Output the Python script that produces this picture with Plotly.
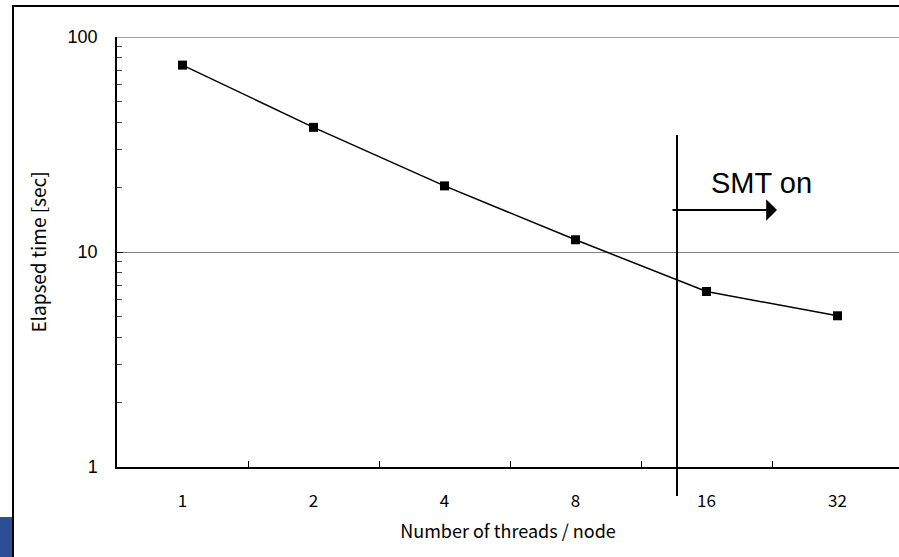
import plotly.graph_objects as go

threads = ["1", "2", "4", "8", "16", "32"]
elapsed = [74.0, 38.0, 20.3, 11.4, 6.55, 5.05]
y_tickvals = [1, 10, 100]
y_ticktext = ["1", "10", "100"]

W, H = 899, 557
L, T, B, R = 117, 37, 90, 0
pw = W - L - R
ph = H - T - B

def px_to_paper_x(px):
    return (px - L) / pw

def px_to_paper_y(py):
    return (H - B - py) / ph

def px_to_cat(px):
    return (px - L) / 131.0 - 0.5

fig = go.Figure()
fig.add_trace(go.Scatter(
    x=threads, y=elapsed, mode="lines+markers",
    line=dict(color="black", width=1.5),
    marker=dict(symbol="square", size=9, color="black"),
    showlegend=False, cliponaxis=False,
))

shapes = [
    # top gridline at 100
    dict(type="line", xref="paper", yref="y", x0=0, x1=1, y0=100, y1=100,
         line=dict(color="#808080", width=1.5), layer="below"),
    # vertical SMT divider
    dict(type="line", xref="x", yref="paper", x0=px_to_cat(677), x1=px_to_cat(677),
         y0=px_to_paper_y(135), y1=px_to_paper_y(496), line=dict(color="black", width=2)),
    # outer frame (left & top)
    dict(type="line", xref="paper", yref="paper", x0=px_to_paper_x(13), x1=px_to_paper_x(13),
         y0=px_to_paper_y(5), y1=px_to_paper_y(560), line=dict(color="black", width=2)),
    dict(type="line", xref="paper", yref="paper", x0=px_to_paper_x(12), x1=px_to_paper_x(905),
         y0=px_to_paper_y(6), y1=px_to_paper_y(6), line=dict(color="black", width=2)),
    # blue corner block
    dict(type="rect", xref="paper", yref="paper", x0=px_to_paper_x(0), x1=px_to_paper_x(12),
         y0=px_to_paper_y(517), y1=px_to_paper_y(560), line=dict(width=0), fillcolor="#2d4d94"),
]

annotations = [
    dict(xref="x", yref="paper", axref="x", ayref="pixel",
         x=px_to_cat(777), y=px_to_paper_y(210), ax=px_to_cat(671), ay=0,
         showarrow=True, arrowhead=1, arrowsize=1.8, arrowwidth=2, arrowcolor="black", text=""),
    dict(xref="x", yref="paper", x=px_to_cat(761), y=px_to_paper_y(183), text="SMT on",
         showarrow=False, font=dict(family="Liberation Sans, Arial", size=29, color="black")),
]

fig.update_layout(
    width=W, height=H,
    margin=dict(l=L, r=R, t=T, b=B),
    paper_bgcolor="white", plot_bgcolor="white",
    shapes=shapes, annotations=annotations,
    xaxis=dict(
        type="category", range=[-0.5, px_to_cat(899)], showgrid=False,
        showline=True, linecolor="black", linewidth=1.5,
        ticks="inside", tickson="boundaries", ticklen=6, tickcolor="black", tickwidth=1,
        tickfont=dict(family="Noto Sans CJK JP", size=17, color="black"),
        ticklabelstandoff=18,
        title=dict(text="Number of threads / node", standoff=14,
                   font=dict(family="Noto Sans CJK JP", size=18, color="black")),
        zeroline=False,
    ),
    yaxis=dict(
        type="log", range=[0, 2], showgrid=True, gridcolor="#808080", gridwidth=1,
        showline=True, linecolor="black", linewidth=1.5,
        tickvals=y_tickvals, ticktext=y_ticktext,
        ticks="inside", ticklen=6, tickcolor="black",
        minor=dict(ticks="inside", ticklen=5, tickcolor="#444444", showgrid=False,
                   tickvals=[2, 3, 4, 5, 6, 7, 8, 9, 20, 30, 40, 50, 60, 70, 80, 90]),
        tickfont=dict(family="Liberation Sans, Arial", size=18, color="black"),
        ticklabelstandoff=14,
        title=dict(text="Elapsed time [sec]", standoff=16,
                   font=dict(family="Noto Sans CJK JP", size=19, color="black")),
        zeroline=False,
    ),
)

fig.write_html("out.html")
